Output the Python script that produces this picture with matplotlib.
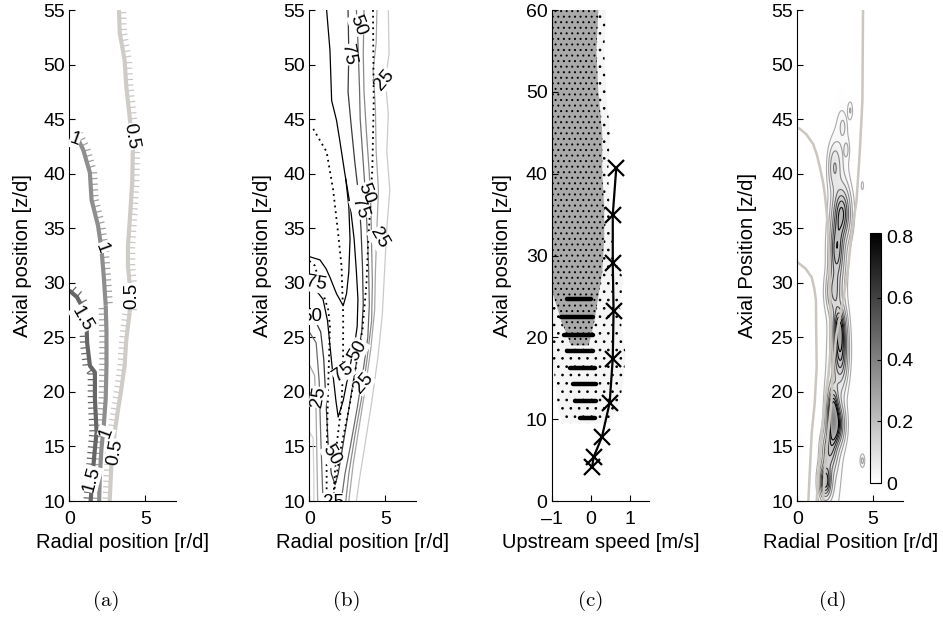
import matplotlib
matplotlib.use("Agg")
import matplotlib.pyplot as plt
import matplotlib.patheffects as pe
import numpy as np
from matplotlib.colors import Normalize
from matplotlib.colorbar import ColorbarBase

plt.rcParams["font.family"] = ["Liberation Sans", "DejaVu Sans"]
plt.rcParams["font.size"] = 14
plt.rcParams["hatch.linewidth"] = 0.7

# ---------------- panel (a): three contour levels, read top -> bottom
A05_R = [3.26, 3.31, 3.63, 3.74, 3.96, 4.17, 4.13, 4.0, 3.85, 3.85, 4.0, 3.96, 3.74, 3.63, 3.42, 3.2, 2.98, 2.76, 2.65]
A05_Z = [55.0, 52.9, 50.4, 48.0, 45.2, 42.2, 39.2, 36.4, 33.4, 31.5, 29.4, 27.3, 24.8, 22.4, 20.3, 18.4, 16.3, 13.3, 10.0]
A10_R = [0.38, 0.91, 1.35, 1.46, 1.89, 2.11, 2.26, 2.39, 2.44, 2.44, 2.39, 2.26, 2.11, 2.0, 1.96]
A10_Z = [43.7, 42.2, 40.1, 37.6, 35.2, 33.1, 30.6, 27.9, 25.5, 22.4, 19.4, 16.9, 14.8, 12.3, 10.0]
A15_R = [0.0, 0.16, 0.5, 0.81, 1.13, 1.17, 1.35, 1.68, 1.68, 1.79, 1.68, 1.52, 1.40]
A15_Z = [29.3, 29.1, 28.7, 27.9, 26.1, 24.5, 22.4, 21.8, 19.4, 16.3, 14.8, 12.3, 10.0]
A_LABELS = ["0.5", "0.5", "0.5", "1", "1", "1.5", "1", "1.5"]
A_LABEL_R = [4.07, 4.07, 2.98, 0.37, 2.11, 0.81, 2.44, 1.46]
A_LABEL_Z = [43.4, 28.8, 14.5, 43.1, 33.2, 26.7, 16.3, 12.0]
A_LABEL_ROT = [-80, 90, 80, -20, -70, -60, 70, 75]

# ---------------- panel (b): contour lines
B_A_R = [1.14, 1.36, 1.47, 1.79, 2.01, 2.34, 2.7, 2.95, 3.1, 3.2, 3.15, 3.0, 2.67, 2.23, 1.9, 1.75, 1.5, 1.2, 0.9, 0.5, 0.0]
B_A_Z = [55, 51.3, 46.7, 44.9, 43.0, 40.0, 37.0, 34.0, 31.0, 28.5, 26.0, 24.5, 22.3, 19.2, 17.7, 19.2, 22.3, 26.5, 28.5, 29.2, 29.5]
B_B_R = [0.0, 0.7, 1.1, 1.36, 1.79, 2.23, 2.45, 2.6, 2.68, 2.6, 2.4]
B_B_Z = [32.4, 32.1, 31.3, 30.5, 29.0, 27.9, 29.0, 31.0, 34.0, 37.0, 39.5]
B_75_R = [2.55, 2.6, 2.55, 2.75, 3.0, 3.25, 3.4, 3.5, 3.55, 3.45, 3.2, 2.9, 2.55, 2.2, 1.9, 1.7, 1.45, 1.25, 1.1, 0.95, 0.75, 0.4, 0.0]
B_75_Z = [55, 51, 47.5, 44.5, 41, 38, 35, 31.5, 28, 25.5, 23.5, 21, 18, 15, 12.5, 11.5, 12.5, 15, 19, 23, 25.5, 26.5, 26.8]
B_50A_R = [3.1, 3.2, 3.3, 3.35, 3.55, 3.7, 3.8, 3.9, 3.95, 3.85, 3.55, 3.15, 2.7, 2.35, 2.1]
B_50A_Z = [55, 52, 48, 45, 41, 38, 35, 31.5, 28, 25, 22, 18.5, 15, 12.5, 10]
B_50L_R = [0.0, 0.45, 0.65, 0.75, 0.85, 0.9]
B_50L_Z = [25.5, 24.5, 21, 16, 12, 10]
B_50B_R = [3.6, 3.55, 3.6, 3.75, 3.95, 4.05, 4.1, 4.15, 4.1, 3.8, 3.45, 3.0, 2.6, 2.4]
B_50B_Z = [55, 51, 47.5, 44, 40, 37, 33.5, 30, 26.5, 23, 19.5, 16, 12.5, 10]
B_25A_R = [4.45, 4.4, 4.2, 4.35, 4.4, 4.55, 4.45, 4.35, 4.3, 4.05, 3.7, 3.3, 2.9, 2.6]
B_25A_Z = [55, 52, 49.5, 46, 42, 38.5, 35, 31, 27.5, 24, 20.5, 17, 13.5, 10]
B_25L_R = [0.0, 0.35, 0.45, 0.5, 0.55]
B_25L_Z = [22.5, 21.5, 18, 14, 10]
B_25B_R = [5.2, 5.25, 5.0, 5.2, 5.1, 5.3, 5.1, 4.95, 4.8, 4.5, 4.1, 3.7, 3.3, 3.1]
B_25B_Z = [55, 51, 48.5, 45.5, 42, 38.5, 35, 31, 27, 23, 19, 15.5, 12, 10]
B_05L_R = [0.0, 0.25, 0.3, 0.3]
B_05L_Z = [16.3, 15.8, 12, 10]
B_D1_R = [0.26, 1.14, 1.57, 1.9, 2.12, 2.23, 2.22, 2.12, 1.79, 1.57]
B_D1_Z = [44.1, 42.0, 38.5, 34.5, 31.5, 27.0, 22.0, 18.9, 15.0, 10.0]
B_D2_R = [0.0, 0.35, 0.8, 1.25, 1.36, 1.24, 1.14, 1.14]
B_D2_Z = [32.0, 31.6, 29.5, 27.5, 26.0, 20.5, 14.3, 10.0]
B_D3_R = [4.19, 4.24, 4.15, 3.97, 3.87, 3.76, 3.5, 3.21, 2.67, 2.1, 1.75, 1.55]
B_D3_Z = [55, 46.7, 40.6, 36.0, 33.6, 29.9, 25.7, 23.5, 18.9, 15.0, 12.0, 10.0]
B_LABELS = ["75", "50", "25", "50", "75", "25", "75", "50", "50", "75", "25", "25", "50", "25"]
B_LABEL_R = [2.55, 3.2, 4.96, 3.71, 3.32, 4.58, 0.45, 0.15, 3.2, 2.23, 3.54, 0.59, 1.47, 1.57]
B_LABEL_Z = [50.9, 53.6, 48.6, 38.2, 36.8, 34.1, 29.9, 26.9, 23.8, 21.8, 20.8, 19.5, 14.2, 9.9]
B_LABEL_ROT = [-80, -70, 50, -70, -70, -60, -10, 0, 60, 35, 50, 80, -60, 0]

# ---------------- panel (c): scatter cloud envelopes, clumps and mean line
CLOUD_Z = [9.5, 12, 15, 18, 21, 24, 27, 30, 35, 40, 45, 50, 55, 60]
CLOUD_LEFT = [-0.75, -0.85, -0.92, -1.0, -1.0, -1.0, -1.0, -1.0, -1.0, -1.0, -1.0, -1.0, -1.0, -1.0]
CLOUD_RIGHT = [0.5, 0.75, 0.85, 0.9, 0.8, 0.75, 0.85, 0.6, 0.5, 0.45, 0.5, 0.4, 0.35, 0.4]
DENSE_Z = [19, 22, 25, 28, 32, 36, 40, 45, 50, 55, 60]
DENSE_LEFT = [-0.5, -0.75, -0.95, -1.0, -1.0, -1.0, -1.0, -1.0, -1.0, -1.0, -1.0]
DENSE_RIGHT = [-0.05, 0.1, 0.2, 0.3, 0.35, 0.35, 0.3, 0.3, 0.2, 0.15, 0.2]
CLUMP_Z = [10.2, 12.2, 14.3, 16.3, 18.3, 20.3, 22.5, 24.7]
CLUMP_LEFT = [-0.27, -0.4, -0.44, -0.52, -0.6, -0.69, -0.77, -0.6]
CLUMP_RIGHT = [0.11, 0.15, 0.15, 0.12, 0.07, 0.07, 0.07, 0.0]
MEAN_U = [0.04, 0.08, 0.29, 0.49, 0.57, 0.59, 0.57, 0.57, 0.66]
MEAN_Z = [4.2, 5.4, 7.8, 12.0, 17.4, 23.2, 29.1, 35.0, 40.7]
C_XTICKS = [-1, 0, 1]
C_XTICKLABELS = ["\u20131", "0", "1"]

# ---------------- panel (d): intensity blobs and outline curves
D_BLOB_R = [1.85, 2.1, 2.35, 2.65, 2.85, 2.75, 2.4, 2.6, 2.95, 2.45, 3.25, 3.0, 3.5, 4.3, 4.3, 2.7, 2.4, 2.95]
D_BLOB_Z = [11.8, 14.5, 17.8, 17.0, 23.8, 26.0, 29.2, 33.0, 36.4, 40.6, 42.2, 44.3, 45.8, 13.7, 38.9, 33.0, 17.0, 42.5]
D_BLOB_DR = [0.25, 0.3, 0.22, 0.3, 0.3, 0.25, 0.3, 0.3, 0.35, 0.25, 0.1, 0.12, 0.1, 0.1, 0.06, 0.42, 0.42, 0.35]
D_BLOB_DZ = [1.0, 1.2, 1.6, 1.2, 2.0, 1.2, 1.2, 1.8, 1.5, 1.3, 0.5, 0.5, 0.5, 0.4, 0.3, 5.5, 6.0, 2.8]
D_BLOB_PEAK = [0.6, 0.35, 0.7, 0.45, 0.55, 0.4, 0.3, 0.45, 0.5, 0.22, 0.08, 0.08, 0.08, 0.1, 0.06, 0.07, 0.08, 0.05]
D_LEVELS = [0.03, 0.08, 0.15, 0.25, 0.35, 0.45, 0.55, 0.65]
D_E1_R = [0.0, 0.18, 0.6, 1.05, 1.3, 1.49, 1.7, 1.82, 1.95, 2.04, 2.1, 2.15, 2.2, 2.2, 2.05, 1.82, 1.6, 1.42, 1.28]
D_E1_Z = [44.2, 44.1, 43.6, 42.7, 41.7, 40.6, 39.2, 38.1, 36.3, 34.5, 32.2, 29.9, 27.5, 24.0, 21.5, 19.2, 16.2, 13.0, 10.0]
D_E2_R = [0.0, 0.18, 0.55, 0.95, 1.12, 1.23, 1.25, 1.28, 1.15, 0.95, 0.73]
D_E2_Z = [31.9, 31.7, 31.3, 30.5, 29.5, 28.4, 25.5, 22.3, 19.0, 16.2, 10.0]
D_E3_R = [4.34, 4.3, 4.13, 3.91, 3.58, 3.36, 3.03, 2.59, 2.37, 2.26, 2.04, 1.82, 1.71]
D_E3_Z = [55.0, 46.7, 42.1, 37.5, 34.5, 31.4, 28.4, 25.3, 22.3, 19.2, 16.2, 13.1, 10.0]
CB_TICKS = [0, 0.2, 0.4, 0.6, 0.8]
CB_LABELS = ["0", "0.2", "0.4", "0.6", "0.8"]

CAPTIONS = ["(a)", "(b)", "(c)", "(d)"]


def style(ax, xlim, ylim, xticks, yticks):
    ax.set_xlim(xlim)
    ax.set_ylim(ylim)
    ax.set_xticks(xticks)
    ax.set_yticks(yticks)
    ax.spines["top"].set_visible(False)
    ax.spines["right"].set_visible(False)
    for s in ("left", "bottom"):
        ax.spines[s].set_linewidth(0.8)
    ax.tick_params(direction="in", length=4, width=0.8, labelsize=14)
    ax.tick_params(axis="x", pad=7)
    ax.tick_params(axis="y", pad=3)


def ticked(ax, r, z, flip_z, color, tick_color):
    r = np.asarray(r)
    z = np.asarray(z)
    split = int(np.argmax(z < flip_z))
    for sl, ang in ((slice(0, split + 1), 90), (slice(split, None), -90)):
        if len(r[sl]) < 2:
            continue
        ax.plot(r[sl], z[sl], color=color, lw=3, solid_capstyle="butt",
                path_effects=[pe.withTickedStroke(angle=ang, spacing=4.0, length=1.3,
                                                  linewidth=0.9, foreground=tick_color)])


def labels(ax, texts, rs, zs, rots, size=13.5):
    for t, r, z, rot in zip(texts, rs, zs, rots):
        ax.text(r, z, t, rotation=rot, ha="center", va="center", fontsize=size,
                clip_on=True, bbox=dict(fc="white", ec="none", pad=0.1))


def main() -> None:
    fig = plt.figure(figsize=(9.43, 6.22), dpi=100)
    bottom, height = 0.1945, 0.7894

    # (a)
    ax = fig.add_axes([0.0735, bottom, 0.1131, height])
    ticked(ax, A05_R, A05_Z, 29, "#cfccc7", "#c8c8c8")
    ticked(ax, A10_R, A10_Z, 28, "#8e8e8e", "#a0a0a0")
    ticked(ax, A15_R, A15_Z, 28, "#666666", "#666666")
    labels(ax, A_LABELS, A_LABEL_R, A_LABEL_Z, A_LABEL_ROT)
    style(ax, (0, 7), (10, 55), [0, 5], range(10, 56, 5))
    ax.set_xlabel("Radial position [r/d]", fontsize=14.5)
    ax.set_ylabel("Axial position [z/d]", fontsize=14.5)
    ax.yaxis.set_label_coords(-0.35, 0.5)

    # (b)
    ax = fig.add_axes([0.328, bottom, 0.1128, height])
    for r, z, c in ((B_05L_R, B_05L_Z, "#d2d2d2"), (B_25B_R, B_25B_Z, "#cacaca"),
                    (B_25A_R, B_25A_Z, "#a6a6a6"), (B_25L_R, B_25L_Z, "#a6a6a6"),
                    (B_50B_R, B_50B_Z, "#8a8a8a"), (B_50A_R, B_50A_Z, "#6a6a6a"),
                    (B_50L_R, B_50L_Z, "#6a6a6a"), (B_75_R, B_75_Z, "#3a3a3a"),
                    (B_A_R, B_A_Z, "black"), (B_B_R, B_B_Z, "black")):
        ax.plot(r, z, color=c, lw=0.9)
    for r, z in ((B_D1_R, B_D1_Z), (B_D2_R, B_D2_Z), (B_D3_R, B_D3_Z)):
        ax.plot(r, z, color="black", lw=1.3, ls=(0, (1, 2.2)))
    labels(ax, B_LABELS, B_LABEL_R, B_LABEL_Z, B_LABEL_ROT)
    style(ax, (0, 7), (10, 55), [0, 5], range(10, 56, 5))
    ax.set_xlabel("Radial position [r/d]", fontsize=14.5)
    ax.set_ylabel("Axial position [z/d]", fontsize=14.5)
    ax.yaxis.set_label_coords(-0.35, 0.5)

    # (c)
    ax = fig.add_axes([0.585, bottom, 0.1032, height])
    ax.fill_betweenx(CLOUD_Z, CLOUD_LEFT, CLOUD_RIGHT, facecolor="#f5f5f5",
                     edgecolor="black", hatch="..", linewidth=0)
    ax.fill_betweenx(DENSE_Z, DENSE_LEFT, DENSE_RIGHT, facecolor="#a9a9a9",
                     edgecolor="black", hatch="...", linewidth=0)
    for z, x0, x1 in zip(CLUMP_Z, CLUMP_LEFT, CLUMP_RIGHT):
        ax.plot([x0, x1], [z, z], color="black", lw=3.2, solid_capstyle="round")
    ax.plot(MEAN_U, MEAN_Z, color="black", lw=1.6, marker="x", ms=11, mew=1.6)
    style(ax, (-1, 1.5), (0, 60), C_XTICKS, range(0, 61, 10))
    ax.set_xticklabels(C_XTICKLABELS)
    ax.set_xlabel("Upstream speed [m/s]", fontsize=14.5)
    ax.set_ylabel("Axial position [z/d]", fontsize=14.5)
    ax.yaxis.set_label_coords(-0.41, 0.5)

    # (d)
    ax = fig.add_axes([0.8455, bottom, 0.1124, height])
    rr, zz = np.meshgrid(np.linspace(0, 7, 281), np.linspace(10, 55, 451))
    field = np.zeros_like(rr)
    for r0, z0, dr, dz, a in zip(D_BLOB_R, D_BLOB_Z, D_BLOB_DR, D_BLOB_DZ, D_BLOB_PEAK):
        field += a * np.exp(-0.5 * (((rr - r0) / dr) ** 2 + ((zz - z0) / dz) ** 2))
    ax.imshow(field, extent=(0, 7, 10, 55), origin="lower", aspect="auto",
              cmap="gray_r", vmin=0, vmax=2.2, interpolation="bilinear")
    ax.contour(rr, zz, field, levels=D_LEVELS, cmap="gray_r",
               norm=Normalize(-0.25, 0.6), linewidths=0.8)
    for r, z in ((D_E1_R, D_E1_Z), (D_E2_R, D_E2_Z), (D_E3_R, D_E3_Z)):
        ax.plot(r, z, color="#cbc6be", lw=1.8)
    style(ax, (0, 7), (10, 55), [0, 5], range(10, 56, 5))
    ax.set_xlabel("Radial Position [r/d]", fontsize=14.5)
    ax.set_ylabel("Axial Position [z/d]", fontsize=14.5)
    ax.yaxis.set_label_coords(-0.38, 0.5)

    cax = fig.add_axes([0.9226, 0.223, 0.0113, 0.4024])
    cb = ColorbarBase(cax, cmap="gray_r", norm=Normalize(0, 0.81), ticks=CB_TICKS)
    cb.set_ticklabels(CB_LABELS)
    cb.outline.set_linewidth(0.8)
    cax.tick_params(direction="in", length=3, width=0.8, labelsize=14, pad=4)

    for cx, text in zip([106.7, 346.7, 590.7, 833.0], CAPTIONS):
        fig.text(cx / 943, 1 - 601 / 622, text, ha="center", va="center",
                 fontsize=15, family="cmr10")

    fig.savefig("out.png", dpi=100)
    plt.close(fig)


if __name__ == "__main__":
    main()
